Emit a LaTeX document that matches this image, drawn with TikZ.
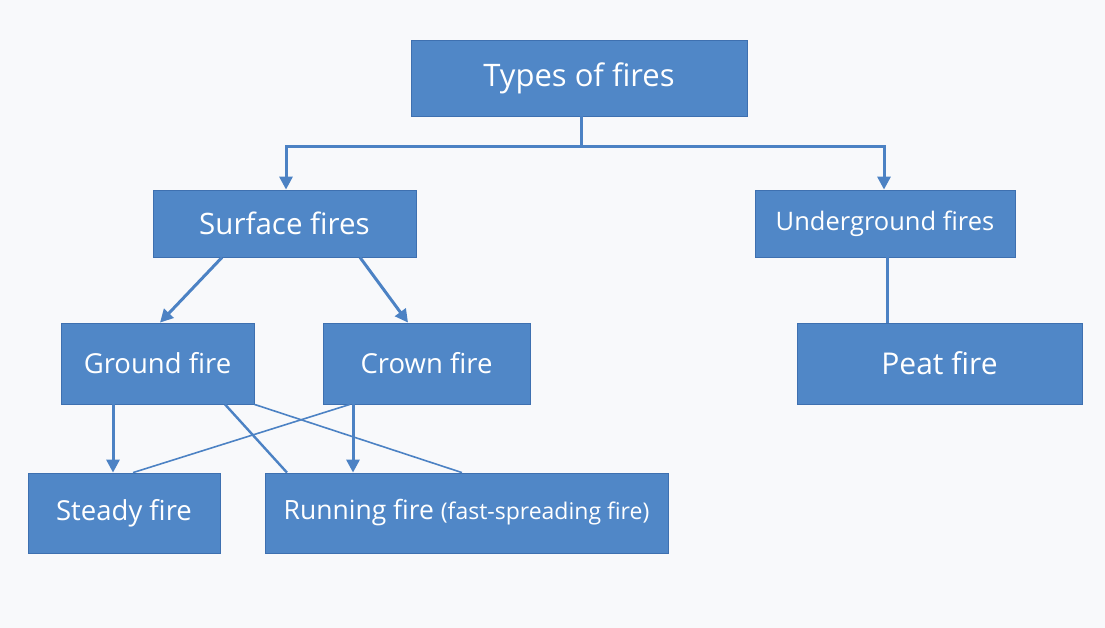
\documentclass[tikz,border=0pt]{standalone}
\usepackage{fontspec}
\setmainfont{Open Sans}
\usetikzlibrary{arrows.meta,calc}
\definecolor{boxblue}{RGB}{80,135,199}
\definecolor{boxedge}{RGB}{62,112,176}
\definecolor{linkblue}{RGB}{76,130,196}
\definecolor{bg}{RGB}{248,249,251}
\tikzset{
  box/.style={draw=boxedge, line width=0.8pt, fill=boxblue, text=white, inner sep=0pt, anchor=center},
  link/.style={draw=linkblue, line width=3pt},
  thinlink/.style={draw=linkblue, line width=1.6pt},
  arr/.style={link, -{Triangle[length=13pt,width=13pt]}},
}
\begin{document}
\begin{tikzpicture}[x=1pt,y=-1pt]
\fill[bg] (0,0) rectangle (1105,628);
\useasboundingbox (0,0) rectangle (1105,628);

\node[box, minimum width=336, minimum height=76, font=\fontsize{31}{36}\selectfont] (types) at (579,78) {\raisebox{3pt}{Types of fires}};
\node[box, minimum width=263, minimum height=67, font=\fontsize{29.5}{34}\selectfont] (surface) at (284.5,223.5) {Surface fires};
\node[box, minimum width=260, minimum height=67, font=\fontsize{25.5}{30}\selectfont] (under) at (885,223.5) {Underground fires};
\node[box, minimum width=193, minimum height=81, font=\fontsize{27.5}{32}\selectfont] (ground) at (157.5,363.5) {Ground fire};
\node[box, minimum width=207, minimum height=81, font=\fontsize{27.5}{32}\selectfont] (crown) at (426.5,363.5) {Crown fire};
\node[box, minimum width=285, minimum height=81, font=\fontsize{30}{34}\selectfont] (peat) at (939.5,363.5) {Peat fire};
\node[box, minimum width=192, minimum height=80, font=\fontsize{27.5}{32}\selectfont] (steady) at (124,513) {Steady fire};
\node[box, minimum width=403, minimum height=80, font=\fontsize{26.5}{31}\selectfont] (running) at (466.5,513) {Running fire {\fontsize{23}{27}\selectfont(fast-spreading fire)}};

\coordinate (hub) at (581,147);
\draw[link] ([xshift=2]types.south) -- (hub);
\draw[arr] (hub) -| ([xshift=1.5]surface.north);
\draw[arr] (hub) -| ([xshift=-1]under.north);

\draw[arr] ([xshift=-62.5]surface.south) -- ([xshift=2.5]ground.north);
\draw[arr] ([xshift=75.5]surface.south) -- ([xshift=-18.5]crown.north);
\draw[link] ([xshift=2]under.south) -- ([xshift=2]under.south |- peat.north);

\draw[arr] ([xshift=-44.5]ground.south) -- ([xshift=-11]steady.north);
\draw[arr] ([xshift=-73.5]crown.south) -- ([xshift=-113.5]running.north);
\draw[thinlink] ([xshift=-76.5]crown.south) -- ([xshift=9]steady.north);
\draw[link, line width=2.4pt] ([xshift=67.5]ground.south) -- ([xshift=-179.5]running.north);
\draw[thinlink] (ground.south east) -- ([xshift=-4.5]running.north);
\end{tikzpicture}
\end{document}
